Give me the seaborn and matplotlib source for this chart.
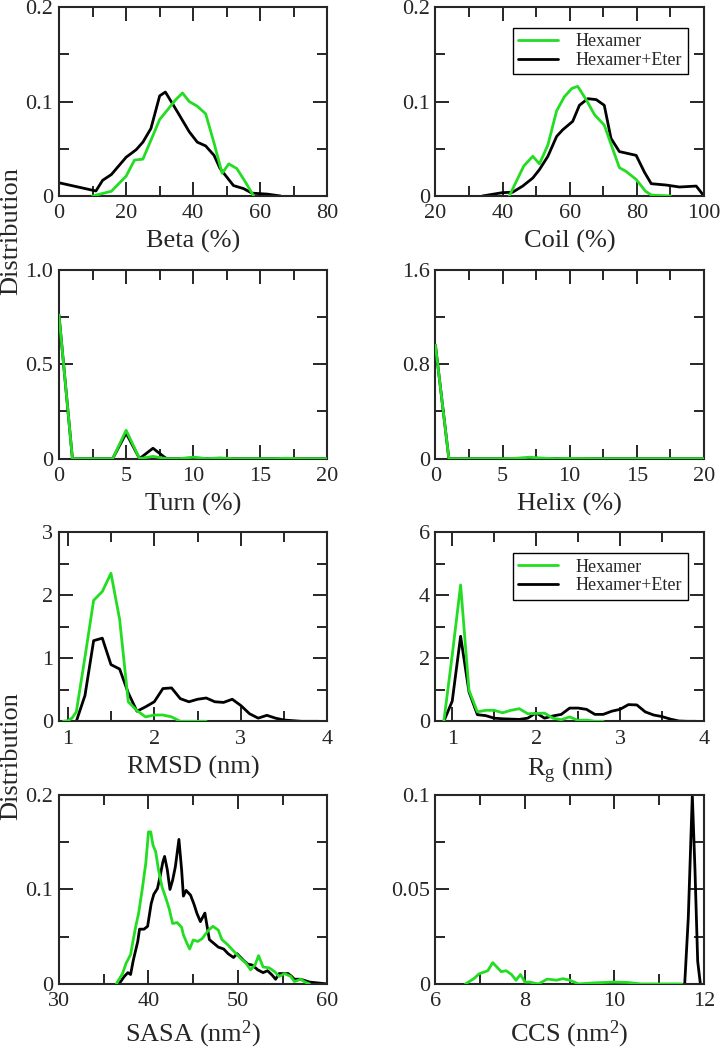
import numpy as np
import pandas as pd
import seaborn as sns
import matplotlib.pyplot as plt
from matplotlib.ticker import MultipleLocator

sns.set_style("ticks")
plt.rcParams['font.family'] = ['Liberation Serif', 'DejaVu Serif']
plt.rcParams['mathtext.fontset'] = 'custom'
plt.rcParams['mathtext.rm'] = 'Liberation Serif'
plt.rcParams['mathtext.it'] = 'Liberation Serif:italic'

GREEN = '#22dd22'
BLACK = '#000000'
labels = ['Hexamer', 'Hexamer+Eter']

# ---- Beta (%) ----
beta_x_hex = [10, 15.6, 20, 22.5, 25, 27.4, 30, 32.3, 34.8, 36.8, 38.8, 41.2, 43.7, 46.2, 48.6, 50.6, 53, 55.5, 58]
beta_y_hex = [0, 0.005, 0.021, 0.038, 0.039, 0.059, 0.081, 0.091, 0.102, 0.109, 0.1, 0.095, 0.087, 0.056, 0.024, 0.034, 0.029, 0.015, 0]
beta_x_eter = [0, 11, 13, 15.6, 20, 23, 25, 27.4, 30, 31.7, 35.3, 38.8, 41.2, 43.7, 46.2, 48, 50, 52, 55, 57.5, 62, 66]
beta_y_eter = [0.014, 0.0053, 0.0166, 0.0227, 0.041, 0.049, 0.057, 0.0715, 0.106, 0.11, 0.089, 0.068, 0.057, 0.053,
               0.043, 0.029, 0.02, 0.011, 0.0078, 0.003, 0.002, 0]

# ---- Coil (%) ----
coil_x_hex = [42, 46.3, 49, 51, 53.5, 56.1, 58.4, 60.7, 62.4, 64.9, 67.4, 70.3, 72.3, 74.8, 76.8, 79.8, 82.6, 84.3, 90]
coil_y_hex = [0, 0.0316, 0.042, 0.034, 0.054, 0.09, 0.105, 0.114, 0.116, 0.102, 0.086, 0.075, 0.055, 0.03, 0.026,
              0.0175, 0.005, 0.001, 0]
coil_x_eter = [34, 39.9, 43, 46, 49, 51, 53.5, 56.1, 57.9, 60.9, 62.9, 65.4, 67.9, 70.3, 72.3, 74.8, 77.3, 79.8,
               82.3, 84.3, 88.7, 92.7, 97.7, 100]
coil_y_eter = [0, 0.0035, 0.004, 0.0105, 0.019, 0.028, 0.042, 0.063, 0.07, 0.079, 0.096, 0.103, 0.102, 0.096,
               0.061, 0.047, 0.045, 0.043, 0.025, 0.013, 0.0116, 0.0095, 0.0105, 0]

# ---- Turn (%) / Helix (%) ----
ss_x = [0, 1, 2, 3, 4, 5, 6, 7, 8, 9, 10, 11, 12, 13, 14, 15, 16, 17, 18, 19, 20]
turn_y_hex = [0.76, 0, 0, 0, 0, 0.15, 0, 0.012, 0, 0, 0.008, 0, 0.004, 0, 0, 0, 0, 0.002, 0, 0, 0]
turn_y_eter = [0.76, 0, 0, 0, 0, 0.135, 0, 0.055, 0, 0, 0, 0, 0, 0, 0, 0, 0, 0, 0, 0, 0]
helix_y_hex = [0.96, 0, 0, 0, 0, 0, 0.003, 0.012, 0.004, 0, 0.002, 0.001, 0, 0, 0, 0, 0, 0, 0, 0, 0]
helix_y_eter = [0.96, 0, 0, 0, 0, 0, 0, 0, 0, 0, 0, 0, 0, 0, 0, 0, 0, 0, 0, 0, 0]

# ---- RMSD (nm) ----
rmsd_x_hex = [0.95, 1.0, 1.05, 1.1, 1.2, 1.3, 1.4, 1.5, 1.6, 1.7, 1.8, 1.9, 2.0, 2.1, 2.2, 2.3, 2.4, 2.5, 2.6]
rmsd_y_hex = [0, 0.01, 0.05, 0.15, 1.02, 1.92, 2.06, 2.35, 1.62, 0.31, 0.17, 0.07, 0.1, 0.1, 0.07, 0, 0, 0, 0]
rmsd_x_eter = [1.1, 1.2, 1.3, 1.4, 1.5, 1.6, 1.7, 1.8, 1.9, 2.0, 2.1, 2.2, 2.3, 2.4, 2.5, 2.6, 2.7, 2.8, 2.9,
               3.0, 3.1, 3.2, 3.3, 3.4, 3.5, 3.6, 3.7, 3.8, 3.9]
rmsd_y_eter = [0, 0.41, 1.28, 1.32, 0.9, 0.83, 0.45, 0.16, 0.23, 0.31, 0.52, 0.53, 0.36, 0.31, 0.35, 0.37, 0.31,
               0.3, 0.35, 0.25, 0.12, 0.05, 0.095, 0.05, 0.02, 0.01, 0, 0, 0]

# ---- Rg (nm) ----
rg_x_hex = [0.9, 1.0, 1.1, 1.2, 1.3, 1.4, 1.5, 1.6, 1.7, 1.8, 1.9, 2.0, 2.1, 2.2, 2.3, 2.4, 2.5, 2.6, 2.7, 2.8]
rg_y_hex = [0, 2.1, 4.33, 0.98, 0.3, 0.35, 0.35, 0.27, 0.35, 0.4, 0.24, 0.25, 0.26, 0.1, 0.05, 0.14, 0.03, 0.04, 0, 0]
rg_x_eter = [0.9, 1.0, 1.1, 1.2, 1.3, 1.4, 1.5, 1.6, 1.7, 1.8, 1.9, 2.0, 2.1, 2.2, 2.3, 2.4, 2.5, 2.6, 2.7, 2.8,
             2.9, 3.0, 3.1, 3.2, 3.3, 3.4, 3.5, 3.6, 3.7, 3.8, 3.9]
rg_y_eter = [0, 0.64, 2.7, 0.93, 0.21, 0.18, 0.1, 0.08, 0.07, 0.06, 0.1, 0.27, 0.1, 0.17, 0.22, 0.42, 0.42, 0.38,
             0.22, 0.22, 0.32, 0.38, 0.53, 0.52, 0.3, 0.2, 0.15, 0.07, 0.01, 0, 0]

# ---- SASA (nm^2) ----
sasa_x_hex = [36.4, 37.1, 37.5, 38.0, 38.3, 38.6, 38.9, 39.3, 39.7, 40.0, 40.25, 40.5, 40.8, 41.1, 41.5, 41.9,
              42.3, 42.7, 43.2, 43.7, 43.9, 44.3, 44.6, 45.0, 45.5, 46.0, 46.7, 47.2, 47.8, 48.2, 48.8, 49.3,
              49.8, 50.4, 50.9, 51.4, 51.9, 52.3, 52.8, 53.5, 54.1, 54.6, 55.2, 55.9, 56.3, 57.0, 57.5, 58.0]
sasa_y_hex = [0, 0.011, 0.022, 0.031, 0.047, 0.062, 0.075, 0.1, 0.128, 0.161, 0.161, 0.147, 0.14, 0.122, 0.103,
              0.092, 0.08, 0.064, 0.065, 0.06, 0.052, 0.043, 0.037, 0.0466, 0.045, 0.048, 0.057, 0.061, 0.057,
              0.047, 0.042, 0.037, 0.032, 0.026, 0.022, 0.015, 0.02, 0.03, 0.018, 0.017, 0.013, 0.008, 0.011,
              0.008, 0.0025, 0.005, 0.002, 0]
sasa_x_eter = [36.7, 37.3, 37.7, 38.0, 38.3, 38.8, 39.0, 39.5, 39.9, 40.3, 40.6, 41.0, 41.3, 41.6, 41.8, 42.1,
               42.4, 42.7, 43.0, 43.4, 43.7, 43.9, 44.2, 44.7, 45.1, 45.4, 45.8, 46.3, 46.8, 47.3, 47.8, 48.4,
               48.9, 49.5, 49.9, 50.6, 51.1, 51.6, 52.2, 52.8, 53.3, 53.8, 54.2, 54.6, 55.6, 56.0, 56.3, 57.0,
               58.0, 59.0, 60.0]
sasa_y_eter = [0, 0.008, 0.012, 0.01, 0.025, 0.045, 0.058, 0.058, 0.061, 0.085, 0.095, 0.101, 0.114, 0.129,
               0.135, 0.121, 0.1, 0.11, 0.124, 0.153, 0.121, 0.093, 0.099, 0.094, 0.084, 0.075, 0.066, 0.075,
               0.047, 0.043, 0.039, 0.037, 0.032, 0.028, 0.032, 0.025, 0.021, 0.02, 0.015, 0.012, 0.014,
               0.0095, 0.005, 0.011, 0.011, 0.008, 0.005, 0.005, 0.002, 0.001, 0]

# ---- CCS (nm^2) ----
ccs_x_hex = [6.67, 6.87, 6.97, 7.17, 7.28, 7.47, 7.58, 7.7, 7.8, 7.9, 8.0, 8.1, 8.3, 8.5, 8.7, 8.85, 9.0, 9.2,
             9.5, 9.97, 10.3, 10.6, 11.0, 11.5]
ccs_y_hex = [0, 0.003, 0.0053, 0.007, 0.0113, 0.0065, 0.007, 0.005, 0.002, 0.005, 0.001, 0.001, 0, 0.0026,
             0.002, 0.0028, 0.002, 0, 0.0005, 0.001, 0.0008, 0, 0, 0]
ccs_x_eter = [11.57, 11.65, 11.74, 11.8, 11.86, 11.92]
ccs_y_eter = [0, 0.035, 0.1, 0.06, 0.012, 0]


def draw(ax, xh, yh, xe, ye, legend=False):
    sns.lineplot(x=xh, y=yh, ax=ax, color=GREEN, linewidth=2.0, label=labels[0], zorder=3, sort=False)
    sns.lineplot(x=xe, y=ye, ax=ax, color=BLACK, linewidth=2.0, label=labels[1], zorder=2, sort=False)
    if legend:
        leg = ax.legend(loc='upper right', bbox_to_anchor=(0.94, 0.89), fontsize=13, frameon=True,
                        fancybox=False, edgecolor='black', framealpha=1, handlelength=2.2,
                        labelspacing=0.1, borderpad=0.3, handletextpad=1.0, borderaxespad=0)
        leg.get_frame().set_linewidth(1.0)
    else:
        ax.get_legend().remove()


def style(ax, xlabel, xlim, xmaj, xmin, ylim, yticks, ylabels, ymin):
    ax.set_xlim(xlim)
    ax.set_ylim(ylim)
    ax.xaxis.set_major_locator(MultipleLocator(xmaj))
    ax.xaxis.set_minor_locator(MultipleLocator(xmin))
    ax.set_yticks(yticks)
    ax.set_yticklabels(ylabels)
    ax.yaxis.set_minor_locator(MultipleLocator(ymin))
    ax.tick_params(which='both', direction='in', top=True, right=True, width=1.4, labelsize=16)
    ax.tick_params(axis='x', which='both', pad=6)
    ax.tick_params(axis='y', which='both', pad=4)
    ax.tick_params(which='major', length=10)
    ax.tick_params(which='minor', length=7)
    for s in ax.spines.values():
        s.set_linewidth(1.5)
    ax.set_xlabel(xlabel, fontsize=19, labelpad=5)
    ax.set_ylabel('')


fig, axes = plt.subplots(4, 2, figsize=(7.22, 10.48), dpi=100)
plt.subplots_adjust(left=0.0817, right=0.975, top=0.9933, bottom=0.0611, wspace=0.402, hspace=0.39)

draw(axes[0, 0], beta_x_hex, beta_y_hex, beta_x_eter, beta_y_eter)
style(axes[0, 0], 'Beta (%)', (0, 80), 20, 10, (0, 0.2), [0, 0.1, 0.2], ['0', '0.1', '0.2'], 0.05)

draw(axes[0, 1], coil_x_hex, coil_y_hex, coil_x_eter, coil_y_eter, legend=True)
style(axes[0, 1], 'Coil (%)', (20, 100), 20, 10, (0, 0.2), [0, 0.1, 0.2], ['0', '0.1', '0.2'], 0.05)

draw(axes[1, 0], ss_x, turn_y_hex, ss_x, turn_y_eter)
style(axes[1, 0], 'Turn (%)', (0, 20), 5, 2.5, (0, 1.0), [0, 0.5, 1.0], ['0', '0.5', '1.0'], 0.25)

draw(axes[1, 1], ss_x, helix_y_hex, ss_x, helix_y_eter)
style(axes[1, 1], 'Helix (%)', (0, 20), 5, 2.5, (0, 1.6), [0, 0.8, 1.6], ['0', '0.8', '1.6'], 0.4)

draw(axes[2, 0], rmsd_x_hex, rmsd_y_hex, rmsd_x_eter, rmsd_y_eter)
style(axes[2, 0], 'RMSD (nm)', (0.9, 4), 1, 0.5, (0, 3), [0, 1, 2, 3], ['0', '1', '2', '3'], 0.5)

draw(axes[2, 1], rg_x_hex, rg_y_hex, rg_x_eter, rg_y_eter, legend=True)
style(axes[2, 1], r'R$_\mathrm{g}$ (nm)', (0.8, 4), 1, 0.5, (0, 6), [0, 2, 4, 6], ['0', '2', '4', '6'], 1)

draw(axes[3, 0], sasa_x_hex, sasa_y_hex, sasa_x_eter, sasa_y_eter)
style(axes[3, 0], r'SASA (nm$^2$)', (30, 60), 10, 5, (0, 0.2), [0, 0.1, 0.2], ['0', '0.1', '0.2'], 0.05)

draw(axes[3, 1], ccs_x_hex, ccs_y_hex, ccs_x_eter, ccs_y_eter)
style(axes[3, 1], r'CCS (nm$^2$)', (6, 12), 2, 1, (0, 0.1), [0, 0.05, 0.1], ['0', '0.05', '0.1'], 0.025)

fig.text(0.016, 1 - 231 / 1048, 'Distribution', rotation=90, ha='center', va='center', fontsize=19)
fig.text(0.016, 1 - 756 / 1048, 'Distribution', rotation=90, ha='center', va='center', fontsize=19)

plt.savefig('out.png', dpi=100)
